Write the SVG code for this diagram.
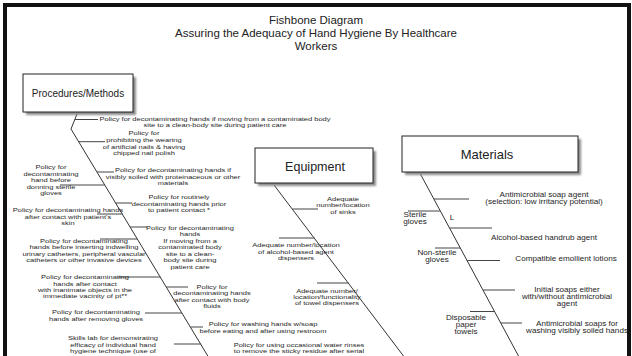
<svg xmlns="http://www.w3.org/2000/svg" width="632" height="356" viewBox="0 0 632 356">
<defs>
<filter id="sh" x="-10%" y="-10%" width="130%" height="140%"><feGaussianBlur stdDeviation="1.2"/></filter>
<style>
.t{font-family:"Liberation Sans",Arial,sans-serif;fill:#222;text-anchor:middle}
.s{font-family:"Liberation Sans",Arial,sans-serif;font-size:6px;fill:#1e1e1e;text-anchor:middle}
.m{font-family:"Liberation Sans",Arial,sans-serif;font-size:6.5px;fill:#1e1e1e;text-anchor:middle}
.box{fill:#fff;stroke:#222;stroke-width:1}
.shadow{fill:#8a8a8a;filter:url(#sh)}
.bone{stroke:#333;stroke-width:1;fill:none}
.br{stroke:#444;stroke-width:1;fill:none}
</style>
</defs>
<rect x="0" y="0" width="632" height="356" fill="#fff"/>
<rect x="5" y="5" width="624" height="360" fill="none" stroke="#111" stroke-width="4"/>

<g id="title">
<text class="t" font-size="11.5" x="316" y="24">Fishbone Diagram</text>
<text class="t" font-size="11.5" x="316" y="37">Assuring the Adequacy of Hand Hygiene By Healthcare</text>
<text class="t" font-size="11.5" x="316" y="50">Workers</text>
</g>

<g id="connectors">
<polyline class="bone" points="77,114 71,129 209,358"/>
<line class="bone" x1="274" y1="185" x2="405" y2="358"/>
<line class="bone" x1="420.4" y1="174" x2="519.6" y2="358"/>
<line class="br" x1="75" y1="119.5" x2="98" y2="119.5"/>
<line class="br" x1="78.7" y1="141.7" x2="105" y2="141.7"/>
<line class="br" x1="97" y1="172" x2="114" y2="172"/>
<line class="br" x1="115.7" y1="203" x2="132" y2="203"/>
<line class="br" x1="130" y1="227" x2="147" y2="227"/>
<line class="br" x1="166.4" y1="287" x2="188" y2="287"/>
<line class="br" x1="190.5" y1="327" x2="203" y2="327"/>
<line class="br" x1="60" y1="185" x2="104.8" y2="185"/>
<line class="br" x1="97" y1="214" x2="122.3" y2="214"/>
<line class="br" x1="100" y1="239" x2="137.4" y2="239"/>
<line class="br" x1="118" y1="277" x2="160.3" y2="277"/>
<line class="br" x1="145" y1="313" x2="182" y2="313"/>
<line class="br" x1="174" y1="344" x2="201.1" y2="344"/>
<line class="br" x1="292.5" y1="209" x2="318" y2="209"/>
<line class="br" x1="279" y1="238" x2="314.5" y2="238"/>
<line class="br" x1="317" y1="283" x2="348.5" y2="283"/>
<line class="br" x1="434" y1="199" x2="469" y2="199"/>
<line class="br" x1="449.5" y1="228" x2="492" y2="228"/>
<line class="br" x1="467" y1="260.5" x2="500" y2="260.5"/>
<line class="br" x1="483" y1="290" x2="515" y2="290"/>
<line class="br" x1="501" y1="323" x2="522" y2="323"/>
<line class="br" x1="408" y1="211" x2="440.3" y2="211"/>
<line class="br" x1="435" y1="248" x2="460.3" y2="248"/>
<line class="br" x1="470" y1="311.5" x2="494.6" y2="311.5"/>
</g>

<g id="procedures">
<rect class="shadow" x="26" y="77" width="110" height="38"/>
<rect class="box" x="23" y="74" width="110" height="38"/>
<text class="t" font-size="10" x="78" y="97">Procedures/Methods</text>
</g>
<g id="equipment">
<rect class="shadow" x="258" y="151" width="118" height="35"/>
<rect class="box" x="255" y="148" width="118" height="35"/>
<text class="t" font-size="12.5" x="315" y="170.5">Equipment</text>
</g>
<g id="materials">
<rect class="shadow" x="405" y="139" width="176" height="36"/>
<rect class="box" x="402" y="136" width="176" height="36"/>
<text class="t" font-size="13" x="487" y="158.5">Materials</text>
</g>

<g id="p1" transform="translate(215,0) scale(1.25,1)"><text class="s"><tspan x="0" y="121.3">Policy for decontaminating hands if moving from a contaminated body</tspan><tspan x="0" y="127.3">site to a clean-body site during patient care</tspan></text></g>
<g id="p2" transform="translate(144,0) scale(1.25,1)"><text class="s"><tspan x="0" y="135.3">Policy for</tspan><tspan x="0" y="142">prohibiting the wearing</tspan><tspan x="0" y="148.6">of artificial nails &amp; having</tspan><tspan x="0" y="155.3">chipped nail polish</tspan></text></g>
<g id="p3" transform="translate(173,0) scale(1.25,1)"><text class="s"><tspan x="0" y="172.5">Policy for decontaminating hands if</tspan><tspan x="0" y="179">visibly soiled with proteinaceous or other</tspan><tspan x="0" y="185.5">materials</tspan></text></g>
<g id="p4" transform="translate(179,0) scale(1.25,1)"><text class="s"><tspan x="0" y="199.5">Policy for routinely</tspan><tspan x="0" y="205.8">decontaminating hands prior</tspan><tspan x="0" y="212">to patient contact *</tspan></text></g>
<g id="p5" transform="translate(190,0) scale(1.25,1)"><text class="s"><tspan x="0" y="229.7">Policy for decontaminating</tspan><tspan x="0" y="236.2">hands</tspan><tspan x="0" y="242.7">If moving from a</tspan><tspan x="0" y="249.2">contaminated body</tspan><tspan x="0" y="255.7">site to a clean-</tspan><tspan x="0" y="262.2">body site during</tspan><tspan x="0" y="268.7">patient care</tspan></text></g>
<g id="p6" transform="translate(212,0) scale(1.25,1)"><text class="s"><tspan x="0" y="288.7">Policy for</tspan><tspan x="0" y="295.2">decontaminating hands</tspan><tspan x="0" y="301.7">after contact with body</tspan><tspan x="0" y="308.2">fluids</tspan></text></g>
<g id="p7" transform="translate(263,0) scale(1.25,1)"><text class="s"><tspan x="0" y="326.5">Policy for washing hands w/soap</tspan><tspan x="0" y="332.8">before eating and after using restroom</tspan></text></g>
<g id="p8" transform="translate(299,0) scale(1.25,1)"><text class="s"><tspan x="0" y="347">Policy for using occasional water rinses</tspan><tspan x="0" y="353.3">to remove the sticky residue after serial</tspan></text></g>
<g id="p9" transform="translate(51,0) scale(1.25,1)"><text class="s"><tspan x="0" y="169.5">Policy for</tspan><tspan x="0" y="176">decontaminating</tspan><tspan x="0" y="182.5">hand before</tspan><tspan x="0" y="189">donning sterile</tspan><tspan x="0" y="195.5">gloves</tspan></text></g>
<g id="p10" transform="translate(68,0) scale(1.25,1)"><text class="s"><tspan x="0" y="212.5">Policy for decontaminating hands</tspan><tspan x="0" y="218.8">after contact with patient's</tspan><tspan x="0" y="225.1">skin</tspan></text></g>
<g id="p11" transform="translate(84,0) scale(1.25,1)"><text class="s"><tspan x="0" y="242.7">Policy for decontaminating</tspan><tspan x="0" y="249.2">hands before inserting indwelling</tspan><tspan x="0" y="255.7">urinary catheters, peripheral vascular</tspan><tspan x="0" y="262.2">catheters or other invasive devices</tspan></text></g>
<g id="p12" transform="translate(85,0) scale(1.25,1)"><text class="s"><tspan x="0" y="279.3">Policy for decontaminating</tspan><tspan x="0" y="285.6">hands after contact</tspan><tspan x="0" y="291.9">with inanimate objects in the</tspan><tspan x="0" y="298.2">immediate vacinity of pt**</tspan></text></g>
<g id="p13" transform="translate(96,0) scale(1.25,1)"><text class="s"><tspan x="0" y="314.3">Policy for decontaminating</tspan><tspan x="0" y="321">hands after removing gloves</tspan></text></g>
<g id="p14" transform="translate(113,0) scale(1.25,1)"><text class="s"><tspan x="0" y="340.3">Skills lab for demonstrating</tspan><tspan x="0" y="346.6">efficacy of individual hand</tspan><tspan x="0" y="352.9">hygiene technique (use of</tspan></text></g>

<g id="e1" transform="translate(343,0) scale(1.25,1)"><text class="s"><tspan x="0" y="201.3">Adequate</tspan><tspan x="0" y="207.5">number/location</tspan><tspan x="0" y="213.7">of sinks</tspan></text></g>
<g id="e2" transform="translate(296,0) scale(1.25,1)"><text class="s"><tspan x="0" y="247">Adequate number/location</tspan><tspan x="0" y="253.7">of alcohol-based agent</tspan><tspan x="0" y="260.3">dispensers</tspan></text></g>
<g id="e3" transform="translate(327,0) scale(1.25,1)"><text class="s"><tspan x="0" y="293">Adequate number/</tspan><tspan x="0" y="299.2">location/functionality</tspan><tspan x="0" y="305.4">of towel dispensers</tspan></text></g>

<g id="m1" transform="translate(544,0) scale(1.25,1)"><text class="m"><tspan x="0" y="197.5">Antimicrobial soap agent</tspan><tspan x="0" y="204.3">(selection:  low irritancy potential)</tspan></text></g>
<g id="m2" transform="translate(544,0) scale(1.25,1)"><text class="m"><tspan x="0" y="240.5">Alcohol-based handrub agent</tspan></text></g>
<g id="m3" transform="translate(566,0) scale(1.25,1)"><text class="m"><tspan x="0" y="261.5">Compatible emollient lotions</tspan></text></g>
<g id="m4" transform="translate(567,0) scale(1.25,1)"><text class="m"><tspan x="0" y="292.5">Initial soaps either</tspan><tspan x="0" y="299.3">with/without antimicrobial</tspan><tspan x="0" y="306.1">agent</tspan></text></g>
<g id="m5" transform="translate(577,0) scale(1.25,1)"><text class="m"><tspan x="0" y="326">Antimicrobial soaps for</tspan><tspan x="0" y="332.8">washing visibly soiled hands</tspan></text></g>
<g id="m6" transform="translate(415,0) scale(1.25,1)"><text class="m"><tspan x="0" y="217.5">Sterile</tspan><tspan x="0" y="224.3">gloves</tspan></text></g>
<g id="m7" transform="translate(437,0) scale(1.25,1)"><text class="m"><tspan x="0" y="255.5">Non-sterile</tspan><tspan x="0" y="262.3">gloves</tspan></text></g>
<g id="m8" transform="translate(466,0) scale(1.25,1)"><text class="m"><tspan x="0" y="320">Disposable</tspan><tspan x="0" y="326.8">paper</tspan><tspan x="0" y="333.6">towels</tspan></text></g>
<g id="mL" transform="translate(452,0) scale(1.25,1)"><text class="m"><tspan x="0" y="220.5">L</tspan></text></g>
</svg>
